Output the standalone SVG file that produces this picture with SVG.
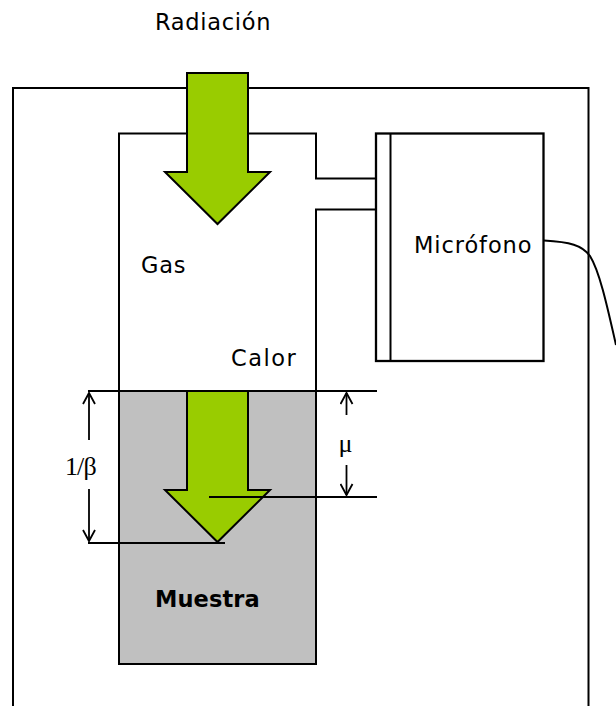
<svg xmlns="http://www.w3.org/2000/svg" width="616" height="706" viewBox="0 0 616 706">
<style>
.l{fill:none;stroke:#000;stroke-width:2}
.t{stroke:#000;stroke-width:1.8;fill:none}
.ar{fill:#99CC00;stroke:#000;stroke-width:2;stroke-linejoin:miter}
text{font-family:"DejaVu Sans",sans-serif;font-size:22.5px;fill:#000}
.s{font-family:"Liberation Serif",serif;font-size:26px}
</style>
<defs>
<marker id="h" viewBox="0 0 14 14" refX="12" refY="7" markerWidth="14" markerHeight="14" markerUnits="userSpaceOnUse" orient="auto"><path d="M1 1L12 7L1 13" fill="none" stroke="#000" stroke-width="1.8"/></marker>
</defs>
<rect width="616" height="706" fill="#fff"/>
<g id="outer"><path class="l" d="M13 706V88H588.500V706"/></g>
<g id="cell"><path class="l" d="M119 391V133.500H316V178.500H376M376 209.500H316V391"/></g>
<g id="sample"><rect x="119" y="391" width="197" height="273" fill="#C0C0C0" stroke="#000" stroke-width="2"/><text x="155" y="607" font-weight="bold" letter-spacing="0.1">Muestra</text></g>
<g id="microphone"><rect x="376" y="133.500" width="167.500" height="227.500" fill="#fff" stroke="#000" stroke-width="2.300"/><path class="l" d="M390.500 133.500V361"/><text x="414" y="253" letter-spacing="0.9">Micrófono</text></g>
<g id="radiation"><path class="ar" d="M187 73H248V172H270L217.500 224L165 172H187Z"/><text x="155" y="30" letter-spacing="0.7">Radiación</text></g>
<g id="heat"><path class="ar" d="M187 391H248V490H270L217.500 542L165 490H187Z"/></g>
<g id="labels"><text x="141" y="273" letter-spacing="0.8">Gas</text><text x="231" y="366" letter-spacing="1.5">Calor</text><text class="s" x="65" y="475" letter-spacing="-0.9">1/β</text><text class="s" x="338.500" y="452">μ</text></g>
<g id="connectors">
<path class="t" d="M88 391H377M209 497H377M88 543H225"/>
<path class="t" marker-end="url(#h)" d="M89 440V393"/>
<path class="t" marker-end="url(#h)" d="M89 489V541"/>
<path class="t" marker-end="url(#h)" d="M346.500 415V393"/>
<path class="t" marker-end="url(#h)" d="M346.500 465V495"/>
<path class="l" d="M544 240.500C570 242 582 245 590 256C600 272 608 310 616 345"/>
</g>
</svg>
